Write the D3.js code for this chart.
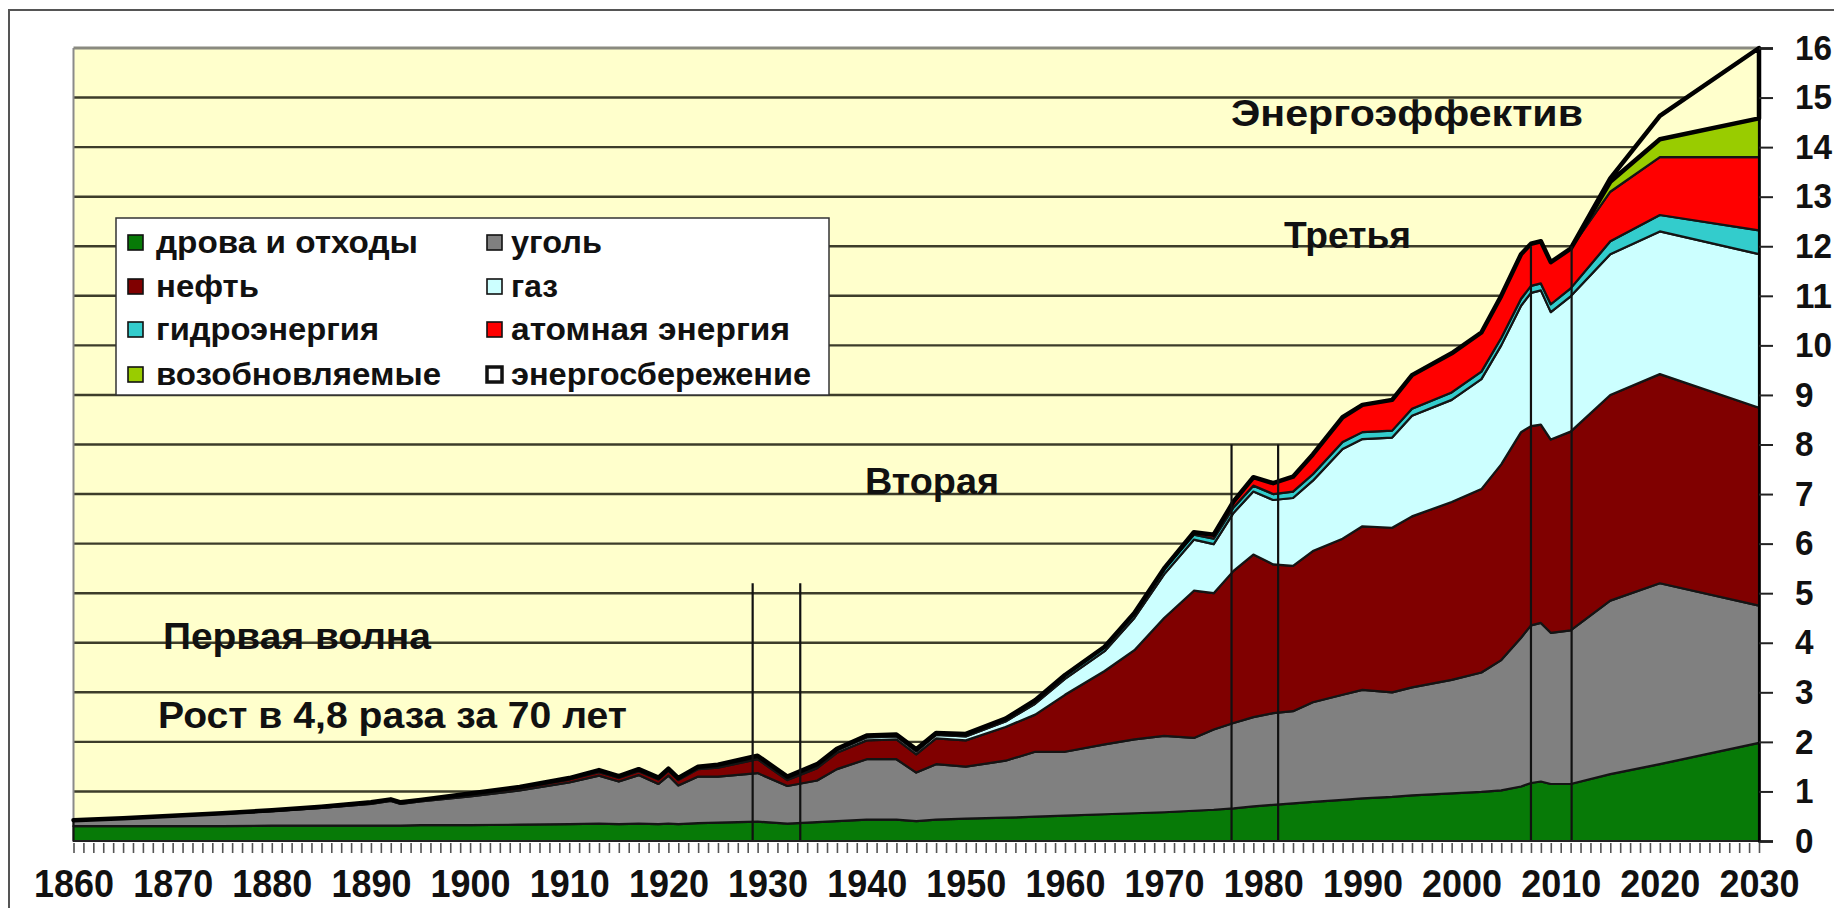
<!DOCTYPE html>
<html>
<head>
<meta charset="utf-8">
<script src="https://cdn.jsdelivr.net/npm/d3@7/dist/d3.min.js"></script>
<style>
  body { margin: 0; background: #fff; }
  svg { display: block; font-family: Arial, "Liberation Sans", sans-serif; font-weight: bold; }
</style>
</head>
<body>
<script>
// years of the stacked series (uneven spacing where the curve bends)
const years = [1860,1865,1870,1875,1880,1885,1890,1892,1893,1895,
               1900,1905,1910,1913,1915,1917,1919,1920,1921,1923,
               1925,1929,1932,1935,1937,1940,1943,1945,1947,1950,
               1954,1957,1960,1964,1967,1970,1973,1975,1977,1979,
               1981,1983,1985,1988,1990,1993,1995,1999,2002,2004,
               2006,2007,2008,2009,2011,2015,2020,2030];

const wood = [.30,.30,.30,.30,.31,.31,.31,.31,.31,.32,
              .32,.33,.34,.35,.34,.35,.34,.35,.34,.36,
              .37,.39,.35,.38,.40,.43,.43,.40,.43,.45,
              .47,.49,.51,.54,.56,.58,.61,.63,.66,.70,
              .73,.76,.79,.83,.86,.89,.92,.96,.99,1.02,
              1.10,1.17,1.20,1.15,1.15,1.35,1.55,1.98];
const coal = [.12,.16,.20,.25,.29,.36,.44,.50,.44,.48,
              .58,.69,.84,.97,.86,.98,.81,.97,.78,.94,
              .93,.98,.76,.84,1.05,1.22,1.22,.98,1.12,1.05,
              1.15,1.31,1.29,1.41,1.49,1.54,1.47,1.62,1.72,1.80,
              1.85,1.86,2.01,2.12,2.19,2.11,2.18,2.29,2.41,2.63,
              3.00,3.18,3.20,3.05,3.10,3.50,3.65,2.77];
const oil = [0,0,.01,.01,.02,.02,.03,.03,.03,.03,
             .04,.05,.06,.07,.07,.08,.09,.10,.11,.15,
             .18,.28,.12,.25,.33,.38,.40,.37,.52,.53,
             .68,.75,1.15,1.48,1.80,2.38,2.97,2.75,3.07,3.28,
             3.00,2.93,3.05,3.15,3.30,3.32,3.45,3.59,3.70,3.95,
             4.15,4.02,4.00,3.90,4.01,4.15,4.22,3.99];
const gas = [0,0,0,0,0,0,0,0,0,0,
             .01,.01,.02,.02,.02,.02,.02,.02,.02,.03,
             .03,.04,.04,.05,.05,.06,.06,.06,.07,.08,
             .11,.22,.32,.40,.65,.88,1.03,.99,1.17,1.27,
             1.30,1.37,1.42,1.81,1.76,1.82,2.03,2.06,2.22,2.40,
             2.55,2.69,2.71,2.57,2.73,2.84,2.88,3.10];
const hydro = [0,0,0,0,0,0,0,0,0,0,
               .01,.01,.01,.02,.02,.02,.02,.02,.02,.02,
               .03,.03,.03,.03,.03,.04,.04,.04,.04,.05,
               .06,.07,.08,.09,.09,.10,.10,.11,.11,.12,
               .12,.13,.13,.14,.14,.14,.14,.15,.15,.15,
               .14,.14,.14,.16,.16,.26,.33,.48];
const nuclear = [0,0,0,0,0,0,0,0,0,0,
                 0,0,0,0,0,0,0,0,0,0,
                 0,0,0,0,0,0,0,0,0,0,
                 0,0,0,0,.01,.02,.05,.08,.12,.17,
                 .22,.30,.40,.50,.55,.62,.68,.79,.79,.85,
                 .90,.85,.85,.85,.80,1.00,1.17,1.48];
const renew = [0,0,0,0,0,0,0,0,0,0,
               0,0,0,0,0,0,0,0,0,0,
               0,0,0,0,0,0,0,0,0,0,
               0,0,0,0,0,0,0,0,0,0,
               0,0,0,0,0,0,0,0,0,0,
               0,0,0,0,0,.20,.36,.78];
const saving = [0,0,0,0,0,0,0,0,0,0,
                0,0,0,0,0,0,0,0,0,0,
                0,0,0,0,0,0,0,0,0,0,
                0,0,0,0,0,0,0,0,0,0,
                0,0,0,0,0,0,0,0,0,0,
                0,0,0,0,0,.07,.47,1.42];

const seriesKeys = ['wood','coal','oil','gas','hydro','nuclear','renew','saving'];
const seriesNames = ['дрова и отходы','уголь','нефть','газ','гидроэнергия','атомная энергия','возобновляемые','энергосбережение'];
const seriesColors = ['#077a07','#808080','#800000','#ccffff','#33cccc','#ff0000','#99cc00','#ffffcc'];

// vertical marks of the waves
const waveYears = [1928.5, 1933.3, 1976.8, 1981.5, 2007, 2011.1];
const waveTops = [5.2, 5.2, 8, 8, 12, 12];

const decadeTicks = d3.range(1860, 2031, 10);
const yearTicks = d3.range(1860, 2031, 1);
const valueTicks = d3.range(0, 17, 1);

const notes = ['Энергоэффектив', 'Третья', 'Вторая', 'Первая волна', 'Рост в 4,8 раза за 70 лет'];

// layout
const W = 1834, H = 908;
const noteLayout = [
  {x: 1231, y: 126, w: 352}, {x: 1284, y: 248, w: 127}, {x: 865, y: 494, w: 134},
  {x: 163, y: 649, w: 268}, {x: 158, y: 728, w: 469}
];
const legendBox = {x: 116, y: 218, w: 713, h: 177};
const legendCols = [128, 487], legendTextCols = [156, 511];
const legendBase = [253, 297, 340, 385];
const legendWidths = [262, 91, 103, 47, 223, 279, 285, 300];

let svg = d3.select('body').append('svg').attr('width', W).attr('height', H);

// outer frame
svg.append('rect').attr('x', 9).attr('y', 10).attr('width', 1900).attr('height', 1000)
   .attr('fill', 'none').attr('stroke', '#555').attr('stroke-width', 2);

let x = d3.scaleLinear().domain([1860, 2030]).range([73.5, 1759]);
let y = d3.scaleLinear().domain([0, 16]).range([841, 48]);

// plot background
svg.append('rect').attr('x', x(1860)).attr('y', y(16))
   .attr('width', x(2030) - x(1860)).attr('height', y(0) - y(16))
   .attr('fill', '#ffffcc');

// gridlines
svg.append('g').selectAll('line').data(valueTicks.filter(d => d > 0 && d < 16)).join('line')
   .attr('x1', x(1860)).attr('x2', x(2030))
   .attr('y1', d => y(d)).attr('y2', d => y(d))
   .attr('stroke', '#3d3d2a').attr('stroke-width', 2.4);

// frame top/left
svg.append('line').attr('x1', x(1860)).attr('x2', x(2030)).attr('y1', y(16)).attr('y2', y(16))
   .attr('stroke', '#8a8a80').attr('stroke-width', 3);
svg.append('line').attr('x1', x(1860)).attr('x2', x(1860)).attr('y1', y(16)).attr('y2', y(0))
   .attr('stroke', '#8a8a8a').attr('stroke-width', 2);

// stacked areas
const table = years.map((yr, i) => ({
  year: yr, wood: wood[i], coal: coal[i], oil: oil[i], gas: gas[i],
  hydro: hydro[i], nuclear: nuclear[i], renew: renew[i], saving: saving[i]
}));
const stacked = d3.stack().keys(seriesKeys)(table);
const area = d3.area().x(d => x(d.data.year)).y0(d => y(d[0])).y1(d => y(d[1]));

svg.append('g').selectAll('path').data(stacked).join('path')
   .attr('d', area)
   .attr('fill', (d, i) => seriesColors[i])
   .attr('stroke', (d, i) => i === 7 ? '#000' : '#141414')
   .attr('stroke-width', (d, i) => i === 7 ? 4.5 : 2.2)
   .attr('stroke-linejoin', 'round');

// wave marks
svg.append('g').selectAll('line').data(waveYears).join('line')
   .attr('x1', d => x(d)).attr('x2', d => x(d))
   .attr('y1', y(0)).attr('y2', (d, i) => y(waveTops[i]))
   .attr('stroke', '#111').attr('stroke-width', 2.2);

// x axis: yearly ticks + decade labels
let xMinor = svg.append('g').attr('transform', `translate(0,${y(0) + 2})`)
   .call(d3.axisBottom(x).tickValues(yearTicks).tickSize(10).tickFormat(''));
xMinor.select('.domain').remove();
xMinor.selectAll('line').attr('stroke', '#555').attr('stroke-width', 1.6);

let xLab = svg.append('g').attr('transform', `translate(0,${y(0)})`)
   .call(d3.axisBottom(x).tickValues(decadeTicks).tickSize(0).tickFormat(d3.format('d')));
xLab.select('.domain').remove();
xLab.selectAll('text').attr('y', 56).attr('dy', 0)
   .attr('font-size', 39).attr('font-weight', 'bold').attr('fill', '#111')
   .attr('font-family', 'Arial, "Liberation Sans", sans-serif')
   .attr('textLength', 80).attr('lengthAdjust', 'spacingAndGlyphs');

svg.append('line').attr('x1', x(1860)).attr('x2', x(2030)).attr('y1', y(0)).attr('y2', y(0))
   .attr('stroke', '#222').attr('stroke-width', 2);

// y axis on the right
let yAx = svg.append('g').attr('transform', `translate(${x(2030)},0)`)
   .call(d3.axisRight(y).tickValues(valueTicks).tickSize(14).tickPadding(22));
yAx.select('.domain').attr('stroke', '#000').attr('stroke-width', 2.6);
yAx.selectAll('line').attr('stroke', '#222').attr('stroke-width', 2);
yAx.selectAll('text')
   .attr('font-size', 35).attr('font-weight', 'bold').attr('fill', '#111')
   .attr('font-family', 'Arial, "Liberation Sans", sans-serif')
   .attr('textLength', d => String(d).length * 18.5).attr('lengthAdjust', 'spacingAndGlyphs');

// legend
let lg = svg.append('g');
lg.append('rect').attr('x', legendBox.x).attr('y', legendBox.y)
  .attr('width', legendBox.w).attr('height', legendBox.h)
  .attr('fill', '#fff').attr('stroke', '#333').attr('stroke-width', 1.5);
seriesNames.forEach((name, i) => {
  const col = i % 2, row = Math.floor(i / 2);
  lg.append('rect').attr('x', legendCols[col]).attr('y', legendBase[row] - 18)
    .attr('width', 15).attr('height', 15)
    .attr('fill', i === 7 ? '#fff' : seriesColors[i])
    .attr('stroke', '#111').attr('stroke-width', i === 7 ? 3.5 : 1.6);
  lg.append('text').attr('x', legendTextCols[col]).attr('y', legendBase[row])
    .attr('font-size', 31).attr('fill', '#111')
    .attr('textLength', legendWidths[i]).attr('lengthAdjust', 'spacingAndGlyphs')
    .text(name);
});

// annotations
svg.append('g').selectAll('text').data(notes).join('text')
   .attr('x', (d, i) => noteLayout[i].x).attr('y', (d, i) => noteLayout[i].y)
   .attr('font-size', 36).attr('fill', '#111')
   .attr('textLength', (d, i) => noteLayout[i].w).attr('lengthAdjust', 'spacingAndGlyphs')
   .text(d => d);
</script>
</body>
</html>
